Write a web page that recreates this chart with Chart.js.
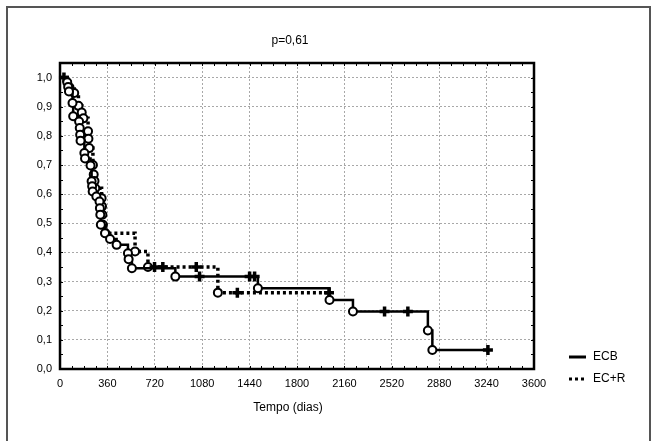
<!DOCTYPE html>
<html>
<head>
<meta charset="utf-8">
<script src="https://cdn.jsdelivr.net/npm/chart.js@4.4.1/dist/chart.umd.min.js"></script>
<style>
  body { margin: 0; background: #fff; }
  .wrap { width: 653px; height: 441px; position: relative; }
</style>
</head>
<body>
<div class="wrap"><canvas id="kmChart"></canvas></div>
<script>
const chartTitle = "p=0,61";
const xAxisTitle = "Tempo (dias)";
const seriesNames = ["ECB", "EC+R"];
const xTicks = [0, 360, 720, 1080, 1440, 1800, 2160, 2520, 2880, 3240, 3600];

// status: 0 = start, 1 = event (circle), 2 = censored (+)
const ecbDays = [0, 30, 55, 62, 68, 95, 100, 145, 150, 153, 156, 185, 190, 232, 240, 244, 248, 276, 300, 303, 306, 310, 342, 380, 430, 516, 521, 546, 876, 1060, 1440, 1478, 1503, 2047, 2225, 2465, 2642, 2794, 2828, 3250];
const ecbSurv = [1, 1, 0.984, 0.968, 0.952, 0.913, 0.867, 0.849, 0.827, 0.804, 0.783, 0.741, 0.722, 0.698, 0.644, 0.627, 0.609, 0.592, 0.575, 0.552, 0.529, 0.495, 0.466, 0.446, 0.426, 0.397, 0.377, 0.346, 0.317, 0.317, 0.317, 0.317, 0.277, 0.237, 0.197, 0.197, 0.197, 0.132, 0.065, 0.065];
const ecbStatus = [0, 2, 1, 1, 1, 1, 1, 1, 1, 1, 1, 1, 1, 1, 1, 1, 1, 1, 1, 1, 1, 1, 1, 1, 1, 1, 1, 1, 1, 2, 2, 2, 1, 1, 1, 2, 2, 1, 1, 2];

const ecrDays = [0, 72, 108, 140, 165, 178, 213, 216, 222, 250, 256, 262, 268, 316, 319, 322, 326, 345, 570, 668, 718, 781, 1035, 1199, 1347, 2043];
const ecrSurv = [1, 0.967, 0.947, 0.903, 0.88, 0.86, 0.816, 0.79, 0.758, 0.7, 0.667, 0.645, 0.62, 0.586, 0.558, 0.529, 0.495, 0.466, 0.403, 0.35, 0.35, 0.35, 0.35, 0.262, 0.262, 0.262];
const ecrStatus = [0, 1, 1, 1, 1, 1, 1, 1, 1, 1, 1, 1, 1, 1, 1, 1, 1, 1, 1, 1, 2, 2, 2, 1, 2, 2];

Chart.defaults.font.family = '"Liberation Sans", Arial, sans-serif';
Chart.defaults.font.size = 11;
Chart.defaults.color = "#000";

function toPoints(days, surv) {
  return days.map((d, i) => ({ x: d, y: surv[i] }));
}

function kmDataset(label, days, surv, status, dash, width) {
  return {
    label: label,
    data: toPoints(days, surv),
    stepped: true,
    borderColor: "#000",
    borderWidth: width,
    borderDash: dash,
    fill: false,
    clip: false,
    pointStyle: status.map((s) => (s === 2 ? "cross" : "circle")),
    pointRadius: status.map((s) => (s === 0 ? 0 : s === 2 ? 5 : 4)),
    pointBorderWidth: status.map((s) => (s === 2 ? 3.5 : 2)),
    pointBackgroundColor: "#fff",
    pointBorderColor: "#000",
  };
}

// frame, minor ticks, title, axis title and legend
const decorPlugin = {
  id: "decor",
  afterDraw(chart) {
    const { ctx, chartArea: { left, right, top, bottom }, scales: { x, y } } = chart;
    ctx.save();

    // outer frame (left, top, right)
    ctx.strokeStyle = "#555";
    ctx.lineWidth = 2;
    ctx.beginPath();
    ctx.moveTo(7, 441);
    ctx.lineTo(7, 7);
    ctx.lineTo(650, 7);
    ctx.lineTo(650, 441);
    ctx.stroke();

    // minor ticks pointing inwards
    ctx.strokeStyle = "#000";
    ctx.lineWidth = 1;
    ctx.beginPath();
    for (let d = 90; d < 3600; d += 90) {
      const px = Math.round(x.getPixelForValue(d)) + 0.5;
      ctx.moveTo(px, top); ctx.lineTo(px, top + 3);
      ctx.moveTo(px, bottom); ctx.lineTo(px, bottom - 3);
    }
    for (let v = 0.05; v < 1.04; v += 0.05) {
      const py = Math.round(y.getPixelForValue(v)) + 0.5;
      ctx.moveTo(left, py); ctx.lineTo(left + 3, py);
      ctx.moveTo(right, py); ctx.lineTo(right - 3, py);
    }
    ctx.stroke();

    // plot box
    ctx.lineWidth = 2.5;
    ctx.strokeRect(left, top, right - left, bottom - top);

    // texts
    ctx.fillStyle = "#000";
    ctx.font = '12px "Liberation Sans", Arial, sans-serif';
    ctx.textAlign = "center";
    ctx.textBaseline = "middle";
    ctx.fillText(chartTitle, 290, 41);
    ctx.fillText(xAxisTitle, 288, 408);

    // legend
    ctx.textAlign = "left";
    chart.data.datasets.forEach((ds, i) => {
      const ly = 357 + i * 22;
      ctx.strokeStyle = "#000";
      ctx.lineWidth = 3;
      ctx.setLineDash(ds.borderDash || []);
      ctx.beginPath();
      ctx.moveTo(569, ly);
      ctx.lineTo(586, ly);
      ctx.stroke();
      ctx.setLineDash([]);
      ctx.fillText(ds.label, 593, ly);
    });
    ctx.restore();
  },
};

const kmCtx = document.getElementById("kmChart").getContext("2d");
const kmChart = new Chart(kmCtx, {
  type: "line",
  data: {
    datasets: [
      kmDataset(seriesNames[0], ecbDays, ecbSurv, ecbStatus, [], 2.5),
      kmDataset(seriesNames[1], ecrDays, ecrSurv, ecrStatus, [3, 3], 3.5),
    ],
  },
  options: {
    responsive: true,
    maintainAspectRatio: false,
    animation: false,
    layout: {
      padding: { top: 63, right: 119, left: 0, bottom: 0 },
    },
    scales: {
      x: {
        type: "linear",
        min: 0,
        max: 3600,
        afterBuildTicks: (scale) => {
          scale.ticks = xTicks.map((v) => ({ value: v }));
        },
        afterFit: (scale) => {
          scale.height = 72;
        },
        ticks: {
          padding: 8,
          maxRotation: 0,
          autoSkip: false,
          callback: (v) => String(v),
        },
        grid: {
          color: "#a8a8a8",
          lineWidth: 1,
          drawTicks: false,
        },
        border: { display: false, dash: [2, 2] },
      },
      y: {
        min: 0,
        max: 1.05,
        afterBuildTicks: (scale) => {
          scale.ticks = scale.ticks.filter((t) => t.value < 1.01);
        },
        afterFit: (scale) => {
          scale.width = 60;
        },
        ticks: {
          stepSize: 0.1,
          padding: 8,
          callback: (v) => v.toFixed(1).replace(".", ","),
        },
        grid: {
          color: "#a8a8a8",
          lineWidth: 1,
          drawTicks: false,
        },
        border: { display: false, dash: [2, 2] },
      },
    },
    plugins: {
      legend: { display: false },
      title: { display: false },
      tooltip: { enabled: false },
    },
  },
  plugins: [decorPlugin],
});
</script>
</body>
</html>
